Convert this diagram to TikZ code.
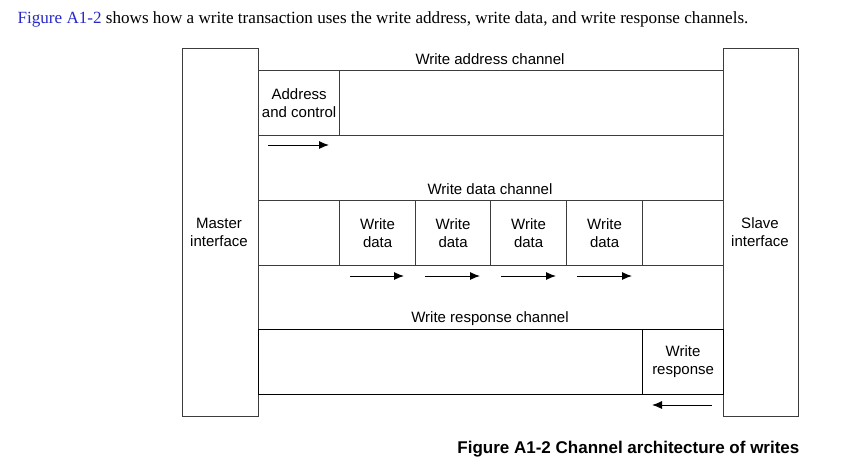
\documentclass[tikz,border=0pt]{standalone}
\usepackage{fontspec}
\setmainfont{Liberation Serif}
\newfontfamily\arial{Liberation Sans}
\usetikzlibrary{arrows.meta}
\definecolor{linkblue}{RGB}{40,40,200}
\definecolor{linegray}{RGB}{60,60,60}
\begin{document}
\begin{tikzpicture}[x=1pt,y=-1pt,line width=1.2pt,
  cell/.style={draw=linegray,inner sep=0pt,anchor=north west,align=center,
    font=\arial\fontsize{15}{18}\selectfont},
  lbl/.style={font=\arial\fontsize{15}{18}\selectfont,inner sep=0pt},
  arr/.style={-{Latex[length=10pt,width=8pt]},line width=1pt,draw=black}]
\useasboundingbox (0,0) rectangle (855,472);
% interfaces
\node[cell,minimum width=76pt,minimum height=368pt] (master) at (182,48) {};
\node[lbl,align=center] (mtxt) at (219,232) {Master\\interface};
\node[cell,minimum width=75pt,minimum height=368pt] (slave) at (723,48) {};
\node[lbl,align=center] (stxt) at (760,232) {Slave\\interface};
% write address channel
\node[lbl] (wal) at (490,59) {Write address channel};
\node[cell,minimum width=81pt,minimum height=65pt] (addr) at (258,70) {Address\\and control};
\node[cell,minimum width=384pt,minimum height=65pt] (addrrest) at (339,70) {};
\coordinate (a1s) at (268,145);
\coordinate (a1e) at (329,145);
\draw[arr] (a1s) -- (a1e);
% write data channel
\node[lbl] (wdl) at (490,189) {Write data channel};
\node[cell,minimum width=81pt,minimum height=65pt] (d0) at (258,200) {};
\node[cell,minimum width=76pt,minimum height=65pt] (d1) at (339,200) {Write\\data};
\node[cell,minimum width=75pt,minimum height=65pt] (d2) at (415,200) {Write\\data};
\node[cell,minimum width=76pt,minimum height=65pt] (d3) at (490,200) {Write\\data};
\node[cell,minimum width=76pt,minimum height=65pt] (d4) at (566,200) {Write\\data};
\node[cell,minimum width=81pt,minimum height=65pt] (d5) at (642,200) {};
\coordinate (b1s) at (350,276); \coordinate (b1e) at (404,276);
\coordinate (b2s) at (425,276); \coordinate (b2e) at (480,276);
\coordinate (b3s) at (501,276); \coordinate (b3e) at (556,276);
\coordinate (b4s) at (577,276); \coordinate (b4e) at (632,276);
\draw[arr] (b1s) -- (b1e);
\draw[arr] (b2s) -- (b2e);
\draw[arr] (b3s) -- (b3e);
\draw[arr] (b4s) -- (b4e);
% write response channel
\node[lbl] (wrl) at (490,319) {Write response channel};
\node[cell,draw=black,minimum width=384pt,minimum height=65pt] (r0) at (258,329) {};
\node[cell,draw=black,minimum width=81pt,minimum height=65pt] (resp) at (642,329) {Write\\response};
\coordinate (c1s) at (712,405); \coordinate (c1e) at (652,405);
\draw[arr] (c1s) -- (c1e);
% texts
\node[anchor=base west,inner sep=0pt,font=\fontsize{17.1}{20}\selectfont] (intro) at (17,23)
  {\textcolor{linkblue}{Figure A1-2} shows how a write transaction uses the write address, write data, and write response channels.};
\node[anchor=base east,inner sep=0pt,font=\arial\bfseries\fontsize{17}{20}\selectfont] (cap) at (800,453)
  {Figure A1-2 Channel architecture of writes};
\end{tikzpicture}
\end{document}
